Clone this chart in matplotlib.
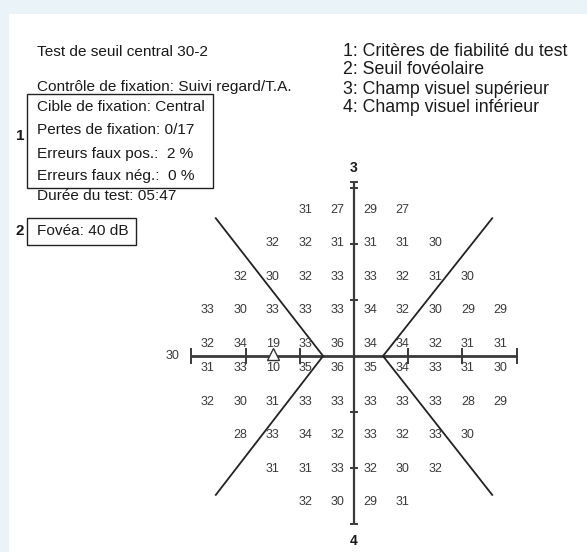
import matplotlib
matplotlib.use("Agg")
import matplotlib.pyplot as plt
from matplotlib.patches import Rectangle

# ---------------- data ----------------
row_levels = [27, 21, 15, 9, 3, -3, -9, -15, -21, -27]
row_p27 = [31, 27, 29, 27]
row_p21 = [32, 32, 31, 31, 31, 30]
row_p15 = [32, 30, 32, 33, 33, 32, 31, 30]
row_p9 = [33, 30, 33, 33, 33, 34, 32, 30, 29, 29]
row_p3 = [32, 34, 19, 33, 36, 34, 34, 32, 31, 31]
row_m3 = [31, 33, 10, 35, 36, 35, 34, 33, 31, 30]
row_m9 = [32, 30, 31, 33, 33, 33, 33, 33, 28, 29]
row_m15 = [28, 33, 34, 32, 33, 32, 33, 30]
row_m21 = [31, 31, 33, 32, 30, 32]
row_m27 = [32, 30, 29, 31]
rows = [row_p27, row_p21, row_p15, row_p9, row_p3,
        row_m3, row_m9, row_m15, row_m21, row_m27]
side_value = "30"
axis_ticks = [-30, -20, -10, 10, 20, 30]

header_lines = ["Test de seuil central 30-2",
                "Contrôle de fixation: Suivi regard/T.A."]
box1_lines = ["Cible de fixation: Central",
              "Pertes de fixation: 0/17",
              "Erreurs faux pos.:  2 %",
              "Erreurs faux nég.:  0 %"]
duration_line = "Durée du test: 05:47"
fovea_line = "Fovéa: 40 dB"
legend_lines = ["1: Critères de fiabilité du test",
                "2: Seuil fovéolaire",
                "3: Champ visuel supérieur",
                "4: Champ visuel inférieur"]

# ---------------- figure ----------------
W, H = 587, 552
fig = plt.figure(figsize=(W / 100, H / 100), dpi=100)
fig.patch.set_facecolor("white")

ov = fig.add_axes([0, 0, 1, 1])
ov.set_xlim(0, W)
ov.set_ylim(H, 0)
ov.axis("off")

bg = "#eaf3f7"
ov.add_patch(Rectangle((0, 0), W, 14, color=bg, lw=0))
ov.add_patch(Rectangle((0, 0), 9, H, color=bg, lw=0))

base_kw = dict(family=["Liberation Sans", "DejaVu Sans"], color="#1a1a1a", va="center")
fs_left = 11.1
ov.text(37, 52, header_lines[0], fontsize=fs_left, ha="left", **base_kw)
ov.text(37, 87, header_lines[1], fontsize=fs_left, ha="left", **base_kw)
for yy, s in zip([107, 130, 154, 176], box1_lines):
    ov.text(37, yy, s, fontsize=fs_left, ha="left", **base_kw)
ov.text(37, 196, duration_line, fontsize=fs_left, ha="left", **base_kw)
ov.text(37, 231, fovea_line, fontsize=fs_left, ha="left", **base_kw)

ov.add_patch(Rectangle((27, 94), 186, 94, fill=False, ec="#222222", lw=1.0))
ov.add_patch(Rectangle((27, 218), 109, 27, fill=False, ec="#222222", lw=1.0))
ov.text(20, 136, "1", fontsize=11, fontweight="bold", ha="center", **base_kw)
ov.text(20, 231, "2", fontsize=11, fontweight="bold", ha="center", **base_kw)

for yy, s in zip([51, 70, 89, 108], legend_lines):
    ov.text(343, yy, s, fontsize=12.8, ha="left", **base_kw)

# ---------------- grid axes (degrees) ----------------
cx, cy = 354.0, 356.0
sx, sy = 5.42, 5.6
lim = 36
ax = fig.add_axes([(cx - lim * sx) / W, (H - (cy + lim * sy)) / H,
                   2 * lim * sx / W, 2 * lim * sy / H])
ax.set_xlim(-lim, lim)
ax.set_ylim(-lim, lim)
ax.axis("off")
ax.patch.set_alpha(0)

line_c = "#3a3a3a"
ax.plot([-30, 30], [0, 0], color=line_c, lw=2.0, solid_capstyle="butt")
ax.plot([0, 0], [-30, 31], color=line_c, lw=1.6, solid_capstyle="butt")
for t in axis_ticks:
    ax.plot([t, t], [-1.2, 1.2], color=line_c, lw=1.4)
    ax.plot([-0.6, 0.6], [t, t], color=line_c, lw=1.4)
ax.plot([-0.6, 0.6], [31, 31], color=line_c, lw=1.4)

diag_c = "#222222"
ax.plot([-25.5, -5.7, -25.5], [24.6, 0, -24.8], color=diag_c, lw=1.3)
ax.plot([25.5, 5.35, 25.5], [24.6, 0, -24.8], color=diag_c, lw=1.3)

num_kw = dict(family=["Liberation Sans Narrow", "Liberation Sans", "DejaVu Sans"],
              fontsize=9, color="#3a3a3a", ha="center", va="center")
for level, vals in zip(row_levels, rows):
    n = len(vals)
    off = -0.85 if level > 0 else 0.85
    for i, v in enumerate(vals):
        x = 3 * (2 * i - (n - 1))
        ax.text(x, level + off, str(v), **num_kw)
ax.text(-33.4, 0, side_value, **num_kw)

ax.plot([-15], [0.35], marker="^", ms=8, mfc="white", mec="#333333", mew=1.0)

lab_kw = dict(family=["Liberation Sans", "DejaVu Sans"], fontsize=10, fontweight="bold",
              color="#1a1a1a", ha="center", va="center")
ax.text(0, 33.6, "3", **lab_kw)
ax.text(0, -33.0, "4", **lab_kw)

fig.savefig("out.png", dpi=100)
